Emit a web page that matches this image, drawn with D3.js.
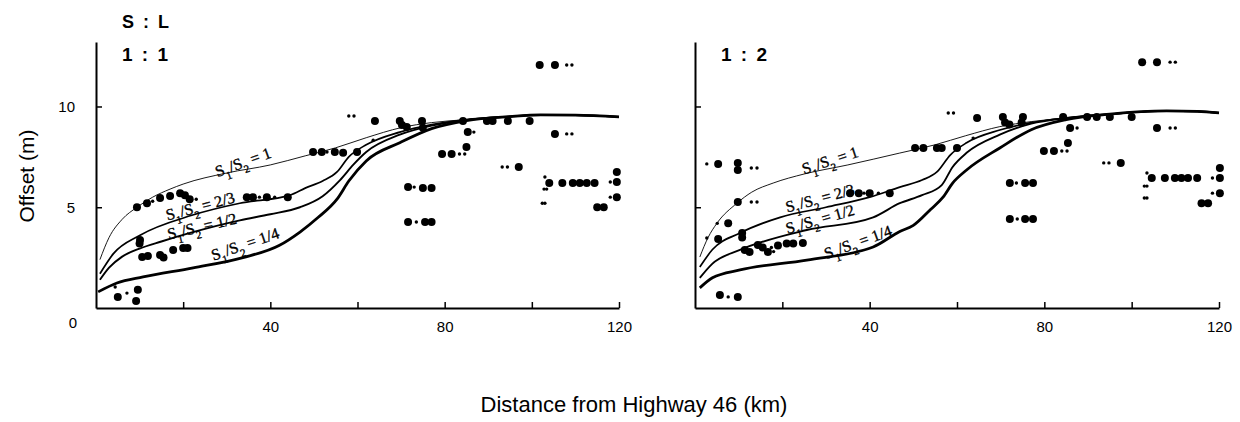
<!DOCTYPE html>
<html>
<head>
<meta charset="utf-8">
<script src="https://cdn.jsdelivr.net/npm/d3@7"></script>
<style>
  body { margin: 0; background: #fff; }
  text { fill: #000; }
</style>
</head>
<body>
<script>
// ratio labels for the model curves
var ratios = ["1", "2/3", "1/2", "1/4"];
var xTicks = [20, 40, 60, 80, 100, 120];
var xLabels = [40, 80, 120];
var yTicks = [5, 10];

// left panel (S:L = 1:1) model curves, km / m
var left1 = [[0.9,2.4],[3,3.5],[6,4.4],[9.4,5.0],[13,5.5],[17,5.9],[20,6.15],[30,6.7],[40,7.1],[48,7.55],[55,7.95],[62,8.45],[70,8.95],[77,9.2],[85,9.35],[95,9.5],[102,9.58],[110,9.57],[120,9.48]];
var left23 = [[0.9,1.7],[4,2.7],[10,3.6],[22,4.6],[33,5.2],[44.5,5.6],[48,5.95],[52,6.3],[55.3,6.75],[58,7.5],[62,8.1],[69.7,8.73],[77,9.1],[85,9.35],[95,9.5],[102,9.58],[110,9.57],[120,9.48]];
var left12 = [[0.9,1.4],[3,2.0],[6,2.55],[10,2.95],[15,3.3],[22,3.75],[33,4.35],[40,4.65],[46.8,5.0],[52,5.55],[56,6.35],[59,7.1],[62,7.74],[69.7,8.6],[77,9.05],[85,9.33],[95,9.5],[102,9.58],[110,9.57],[120,9.48]];
var left14 = [[0.5,0.8],[4.8,1.24],[10.8,1.54],[22.3,1.99],[33.7,2.5],[42,3.1],[46.8,3.77],[51,4.5],[55.3,5.4],[58,6.3],[62,7.3],[69.7,8.2],[77,8.9],[85,9.3],[95,9.5],[102,9.58],[110,9.57],[120,9.48]];

// right panel (S:L = 1:2) model curves
var right1 = [[1.1,2.53],[3,3.5],[5,4.2],[9.6,5.2],[13,5.75],[17.9,6.2],[25,6.65],[35,7.1],[46.9,7.69],[55,8.1],[62,8.55],[69.8,9.0],[77,9.25],[85,9.43],[95,9.62],[108,9.78],[115,9.76],[120,9.68]];
var right23 = [[1.1,2.03],[4,2.9],[10.3,3.72],[19.5,4.5],[30,5.0],[40,5.5],[46.9,6.0],[52,6.35],[55.4,6.75],[58.5,7.6],[62.2,8.2],[69.8,8.83],[77,9.2],[85,9.43],[95,9.62],[108,9.78],[115,9.76],[120,9.68]];
var right12 = [[1.1,1.49],[4,2.2],[10.3,2.88],[25.6,3.87],[40.8,4.5],[46.9,5.2],[52,5.6],[56.5,6.1],[59,7.0],[62.2,7.7],[69.8,8.6],[77,9.15],[85,9.43],[95,9.62],[108,9.78],[115,9.76],[120,9.68]];
var right14 = [[1.1,1.0],[4,1.5],[10.3,1.89],[25.6,2.38],[40.8,3.03],[46.9,3.8],[50,4.1],[54,4.9],[56.8,5.5],[59,6.2],[62.2,6.85],[69.8,7.94],[77,8.85],[85,9.35],[95,9.62],[108,9.78],[115,9.76],[120,9.68]];

// observed offsets, large dots
var leftBig = [[5.0,0.55],[9.6,0.9],[9.2,0.35],
  [9.4,5.0],[11.7,5.2],[14.7,5.46],[17,5.56],[19.3,5.7],[20.4,5.6],[21.5,5.4],
  [34.6,5.5],[36,5.5],[39.2,5.5],[44,5.5],
  [10.1,3.37],[10,3.2],
  [10.6,2.53],[11.9,2.58],[14.7,2.63],[15.5,2.5],[17.7,2.88],[20,2.98],[21,2.98],
  [49.8,7.74],[51.8,7.74],[54.8,7.74],[56.7,7.7],[59.9,7.74],
  [64,9.28],[69.7,9.28],[70.2,9.08],[71.3,8.98],[74.8,9.28],[75,8.95],
  [84.2,9.28],[89.7,9.28],[91,9.28],[94.5,9.28],[99.5,9.28],
  [85.3,8.73],[85,7.99],[79.4,7.64],[81.6,7.64],[97,7.0],
  [101.8,12.06],[105.3,12.06],[105.3,8.64],
  [104,6.2],[107,6.2],[109.4,6.2],[111,6.2],[112.6,6.2],[114.4,6.2],
  [119.5,6.75],[119.5,6.25],[119.5,5.5],[115,5.0],[116.5,5.0],
  [71.6,6.0],[75,5.96],[77,5.96],
  [71.6,4.27],[75.5,4.27],[77,4.27]];
// observed offsets, small marks
var leftSmall = [[7.1,0.74],[4.4,1.04],
  [58,9.53],[59.2,9.53],[63.6,8.33],[86.7,8.73],
  [83.4,7.64],[84.6,7.64],[93.2,7.0],[94.4,7.0],
  [108,12.06],[109.2,12.06],[108,8.64],[109.2,8.64],
  [103,6.5],[103.4,5.9],[102.8,5.9],[103,5.2],[102.4,5.2],
  [118,6.25],[118,5.5],[73,6.0],[73.5,4.27],
  [37.5,5.5],[41,5.5],[23,5.4],[53,7.74],[13,5.3]];

var rightBig = [[5.3,7.15],[9.8,7.2],[9.8,6.85],
  [9.8,5.26],[7.6,4.2],[5.3,3.42],
  [10.8,3.72],[10.8,3.5],
  [11.4,2.88],[12.5,2.78],[14.4,3.13],[15.5,3.0],[16.7,2.78],[19,3.1],[21,3.2],[22.5,3.2],[24.7,3.22],
  [5.7,0.65],[9.8,0.55],
  [35.5,5.7],[37.5,5.7],[40,5.7],[44.6,5.7],
  [50.4,7.94],[52.3,7.94],[55.4,7.94],[56.5,7.94],[60,7.94],
  [64.6,9.43],[70.5,9.48],[71,9.2],[72,9.1],[75.1,9.48],[74.8,9.2],
  [84.3,9.48],[89.8,9.48],[92,9.48],[95,9.48],[100,9.48],
  [85.9,8.93],[85.4,8.19],[79.9,7.79],[82.2,7.79],[97.5,7.2],
  [102.4,12.2],[105.8,12.2],[105.8,8.93],
  [104.6,6.45],[107.6,6.45],[109.9,6.45],[111.4,6.45],[112.9,6.45],[115,6.45],
  [120.2,6.95],[120.2,6.45],[120.2,5.7],[116,5.2],[117.5,5.2],
  [72.1,6.2],[75.6,6.2],[77.4,6.2],
  [72.1,4.42],[75.6,4.42],[77.4,4.42]];
var rightSmall = [[2.7,7.15],[12.9,6.95],[14.2,6.95],[12.9,5.26],[14.2,5.26],[5.1,4.2],[2.7,3.47],[7.6,0.55],
  [58,9.68],[59.2,9.68],[63.7,8.43],[87.5,8.93],[84,7.79],[85.2,7.79],[93.6,7.2],[94.8,7.2],
  [108.8,12.2],[110,12.2],[108.8,8.93],[110,8.93],
  [103.5,6.7],[103.5,6.05],[102.9,6.05],[103.5,5.46],[102.9,5.46],[118.5,6.45],[118.5,5.7],
  [73.6,6.2],[73.8,4.42],[38.7,5.7],[42,5.7],[17.5,3.0],[18,2.8]];

var W = 1240, H = 422;
var svg = d3.select("body").append("svg").attr("width", W).attr("height", H);

var yScale = d3.scaleLinear().domain([0, 13.2]).range([308, 42]);
var widths = [0.9, 1.7, 1.9, 2.8];

function drawPanel(left, right, curves, big, small, labelPos, title, showYLabels) {
  var x = d3.scaleLinear().domain([0, 120]).range([left, right]);
  var g = svg.append("g");

  // axes, ticks pointing inward
  var xAxis = d3.axisBottom(x).tickValues(xTicks).tickSizeInner(-6).tickSizeOuter(0).tickPadding(13)
    .tickFormat(function(d) { return xLabels.indexOf(d) >= 0 ? d : ""; });
  g.append("g").attr("transform", "translate(0," + yScale(0) + ")").call(xAxis);
  var yAxis = d3.axisLeft(yScale).tickValues(yTicks).tickSizeInner(-6).tickSizeOuter(0).tickPadding(21)
    .tickFormat(function(d) { return showYLabels ? d : ""; });
  g.append("g").attr("transform", "translate(" + x(0) + ",0)").call(yAxis);
  g.selectAll(".domain").attr("stroke-width", 2);
  g.selectAll(".tick line").attr("stroke-width", 1.5);
  g.selectAll(".tick text").attr("font-family", "Liberation Sans, Arial, sans-serif").attr("font-size", 15);

  if (showYLabels) {
    g.append("text").attr("x", x(0) - 23).attr("y", yScale(0) + 20)
      .attr("text-anchor", "middle").attr("font-family", "Liberation Sans, Arial, sans-serif")
      .attr("font-size", 15).text("0");
  }

  g.append("text").attr("x", x(0) + 26).attr("y", 61)
    .attr("font-family", "Liberation Sans, Arial, sans-serif").attr("font-weight", "bold")
    .attr("font-size", 19).attr("word-spacing", 4).text(title);

  var line = d3.line().x(function(d) { return x(d[0]); }).y(function(d) { return yScale(d[1]); })
    .curve(d3.curveMonotoneX);

  curves.forEach(function(c, i) {
    g.append("path").datum(c).attr("d", line)
      .attr("fill", "none").attr("stroke", "#000").attr("stroke-width", widths[i]);
  });

  g.selectAll(".big").data(big).enter().append("circle")
    .attr("cx", function(d) { return x(d[0]); })
    .attr("cy", function(d) { return yScale(d[1]); })
    .attr("r", 4).attr("fill", "#000");
  g.selectAll(".small").data(small).enter().append("circle")
    .attr("cx", function(d) { return x(d[0]); })
    .attr("cy", function(d) { return yScale(d[1]); })
    .attr("r", 1.7).attr("fill", "#000");

  // curve labels S1/S2 = ...
  ratios.forEach(function(r, i) {
    var p = labelPos[i];
    var t = g.append("text")
      .attr("transform", "translate(" + x(p[0]) + "," + yScale(p[1]) + ") rotate(" + p[2] + ")")
      .attr("text-anchor", "middle").attr("dy", "0.35em")
      .attr("font-family", "Liberation Serif, Times New Roman, serif").attr("font-size", 16)
      .attr("stroke", "#000").attr("stroke-width", 0.35);
    t.append("tspan").text("S");
    t.append("tspan").attr("baseline-shift", "sub").attr("font-size", 11).text("1");
    t.append("tspan").text("/S");
    t.append("tspan").attr("baseline-shift", "sub").attr("font-size", 11).text("2");
    t.append("tspan").text(" = " + r);
  });
}

var leftLabels = [[33.7, 7.25, -20], [23.9, 5.06, -15], [24.3, 4.07, -13], [34.2, 3.18, -19]];
var rightLabels = [[30.9, 7.34, -18], [28.6, 5.46, -15], [28.6, 4.42, -16], [37.3, 3.28, -20]];

drawPanel(96, 619, [left1, left23, left12, left14], leftBig, leftSmall, leftLabels, "1 : 1", true);
drawPanel(695, 1219, [right1, right23, right12, right14], rightBig, rightSmall, rightLabels, "1 : 2", false);

svg.append("text").attr("x", 122).attr("y", 28)
  .attr("font-family", "Liberation Sans, Arial, sans-serif").attr("font-weight", "bold")
  .attr("font-size", 18).attr("word-spacing", 4).text("S : L");

svg.append("text").attr("transform", "translate(34,176) rotate(-90)")
  .attr("text-anchor", "middle").attr("font-family", "Liberation Sans, Arial, sans-serif")
  .attr("font-size", 21).text("Offset (m)");

svg.append("text").attr("x", 634).attr("y", 412)
  .attr("text-anchor", "middle").attr("font-family", "Liberation Sans, Arial, sans-serif")
  .attr("font-size", 22).text("Distance from Highway 46 (km)");
</script>
</body>
</html>
